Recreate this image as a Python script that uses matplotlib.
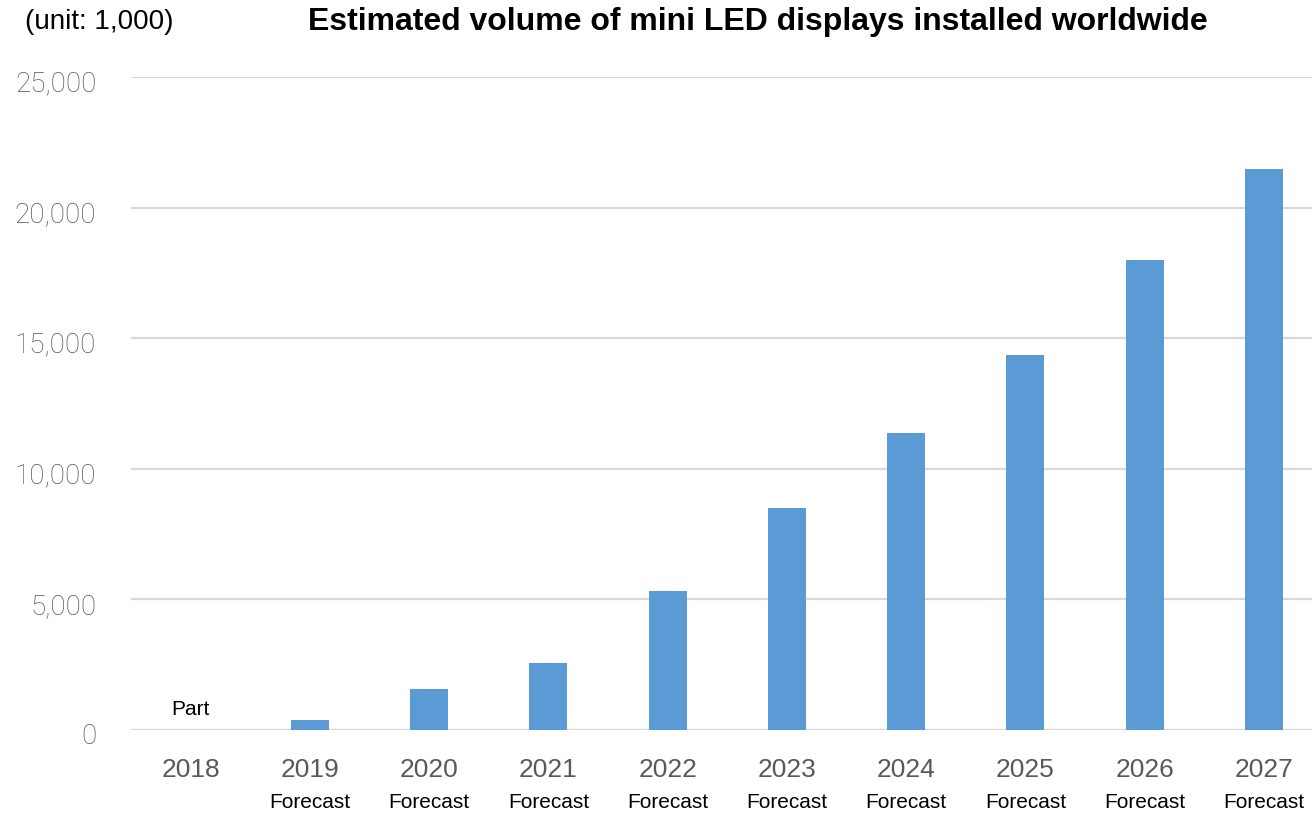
import matplotlib
matplotlib.use("Agg")
import matplotlib.pyplot as plt
from matplotlib.ticker import FuncFormatter
import matplotlib.transforms as mtransforms

years = ["2018", "2019", "2020", "2021", "2022", "2023", "2024", "2025", "2026", "2027"]
sublabels = ["", "Forecast", "Forecast", "Forecast", "Forecast", "Forecast",
             "Forecast", "Forecast", "Forecast", "Forecast"]
values = [0, 380, 1570, 2570, 5320, 8500, 11370, 14360, 17990, 21460]
bar_notes = {0: "Part"}
yticks = [0, 5000, 10000, 15000, 20000, 25000]

plt.rcParams['font.family'] = ['Liberation Sans', 'DejaVu Sans']

fig = plt.figure(figsize=(13.12, 8.14), dpi=100)
ax = fig.add_axes([131/1312, 1 - 730/814, 1 - 131/1312, (730 - 77)/814])

x = list(range(len(years)))
ax.bar(x, values, width=0.32, color="#5B9BD5", zorder=3)

ax.set_ylim(0, 25000)
ax.set_xlim(-0.5, 9.404)
ax.set_yticks(yticks)
ax.yaxis.set_major_formatter(FuncFormatter(lambda v, p: f"{int(v):,}"))
ax.grid(axis="y", color="#D9D9D9", linewidth=1.6, zorder=0)
for s in ax.spines.values():
    s.set_visible(False)
ax.tick_params(axis="y", length=0, pad=25, labelsize=20, labelcolor="#555555")
for lab in ax.get_yticklabels():
    lab.set_fontfamily(["Roboto", "Liberation Sans"])
    lab.set_fontweight("light")
offset = mtransforms.ScaledTranslation(0, -4/100, fig.dpi_scale_trans)
for lab in ax.get_yticklabels():
    lab.set_transform(lab.get_transform() + offset)
ax.tick_params(axis="x", length=0, pad=20, labelsize=19, labelcolor="#595959")
ax.set_xticks(x)
ax.set_xticklabels(years)
ax.axhline(0, color="#D9D9D9", linewidth=1.6, zorder=2)

trans = mtransforms.blended_transform_factory(ax.transData, fig.transFigure)
for xi, lab in zip(x, sublabels):
    if lab:
        ax.text(xi, 1 - 803/814, lab, transform=trans, ha="center", va="center",
                fontsize=15, color="black")

for i, note in bar_notes.items():
    ax.text(i, values[i] + 800, note, ha="center", va="center", fontsize=15, color="black")

fig.text(99/1312, 1 - 22/814, "(unit: 1,000)", ha="center", va="center", fontsize=20, color="black")
fig.text(758/1312, 1 - 22/814, "Estimated volume of mini LED displays installed worldwide",
         ha="center", va="center", fontsize=23, fontweight="bold", color="black")

fig.savefig("out.png", dpi=100)
